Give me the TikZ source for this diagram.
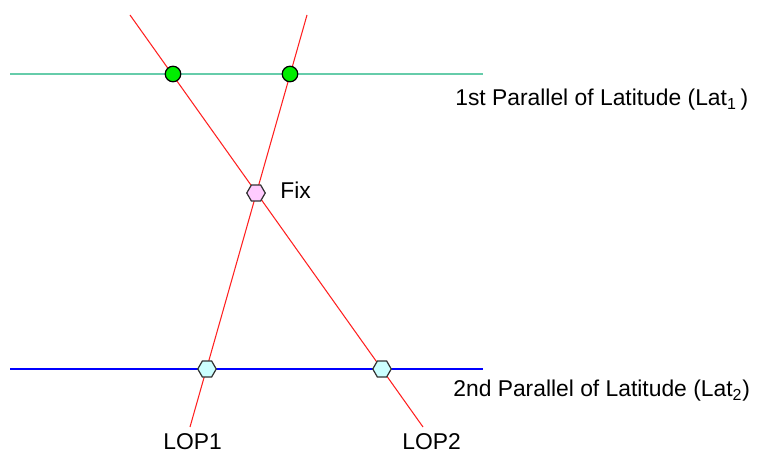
\documentclass[tikz,border=0pt]{standalone}
\usepackage{fontspec}
\setmainfont{Liberation Sans}
\usetikzlibrary{shapes.geometric}
\definecolor{latone}{HTML}{66CCAA}
\definecolor{lattwo}{HTML}{0000FF}
\definecolor{lopred}{HTML}{FF2020}
\definecolor{crossgreen}{HTML}{00EE00}
\definecolor{crosscyan}{HTML}{CCFFFF}
\definecolor{fixpink}{HTML}{FFCCFF}

\begin{document}
\begin{tikzpicture}[
  x=0.02cm, y=-0.02cm,
  every node/.style={font=\fontsize{13}{15}\selectfont},
  parallel/.style={line width=0.9pt},
  lop/.style={draw=lopred, line width=0.6pt},
  greendot/.style={circle, draw=black, fill=crossgreen, line width=0.7pt,
                   inner sep=0pt, minimum size=0.31cm},
  hexdot/.style={regular polygon, regular polygon sides=6, draw=black!80,
                 line width=0.7pt, inner sep=0pt, minimum size=0.37cm},
  label/.style={anchor=base west, inner sep=0pt}
]
\useasboundingbox (0,0) rectangle (757,455);

% Parallels of latitude
\coordinate (pa) at (10,74);
\coordinate (pb) at (483,74);
\coordinate (qa) at (10,369);
\coordinate (qb) at (483,369);
\draw[parallel, latone] (pa) -- (pb);
\draw[parallel, lattwo] (qa) -- (qb);

% Lines of position
\coordinate (lop1top) at (307,15);
\coordinate (lop1bot) at (190,427);
\coordinate (lop2top) at (130,15);
\coordinate (lop2bot) at (423,427);
\draw[lop] (lop1top) -- (lop1bot);
\draw[lop] (lop2top) -- (lop2bot);

% Crossings
\node[greendot] (g2) at (173,74) {};
\node[greendot] (g1) at (290,74) {};
\node[hexdot, fill=crosscyan] (c1) at (207,369) {};
\node[hexdot, fill=crosscyan] (c2) at (382,369) {};
\node[hexdot, fill=fixpink] (fix) at (256,193) {};

% Labels
\node[label] (fixlbl) at (280,199) {Fix};
\node[label] (lat1) at (455,106) {1st Parallel of Latitude (Lat\textsubscript{1}\,)};
\node[label] (lat2) at (453,397) {2nd Parallel of Latitude (Lat\textsubscript{2})};
\node[label] (lop1) at (163,450) {LOP1};
\node[label] (lop2) at (402,450) {LOP2};

\end{tikzpicture}
\end{document}
